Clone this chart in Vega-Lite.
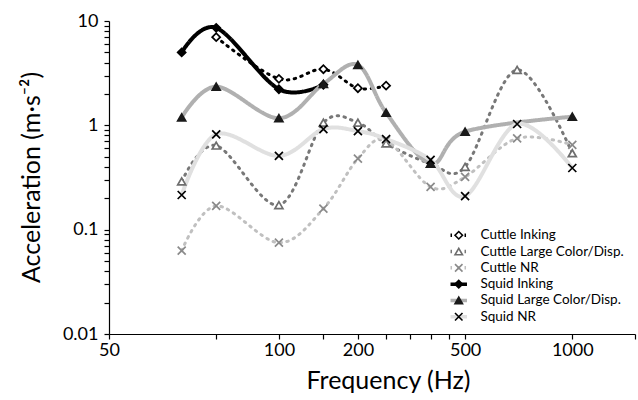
{
  "$schema": "https://vega.github.io/schema/vega-lite/v6.json",
  "width": 526,
  "height": 313,
  "autosize": {"type": "none"},
  "padding": {"left": 109, "top": 21, "right": 3, "bottom": 66},
  "background": "white",
  "config": {
    "view": {"stroke": null},
    "font": "Lato",
    "axis": {"grid": false, "domainColor": "#000", "tickColor": "#000", "labelColor": "#000", "titleColor": "#000", "labelFont": "Lato", "titleFont": "Lato", "titleFontWeight": "normal", "domainWidth": 1.2, "tickWidth": 1.2}
  },
  "data": {"values": [
    {"series": "Cuttle Inking", "freq": 100, "accel": 7.0},
    {"series": "Cuttle Inking", "freq": 150, "accel": 2.79},
    {"series": "Cuttle Inking", "freq": 200, "accel": 3.45},
    {"series": "Cuttle Inking", "freq": 250, "accel": 2.27},
    {"series": "Cuttle Inking", "freq": 300, "accel": 2.40},
    {"series": "Cuttle Large Color/Disp.", "freq": 80, "accel": 0.29},
    {"series": "Cuttle Large Color/Disp.", "freq": 100, "accel": 0.64},
    {"series": "Cuttle Large Color/Disp.", "freq": 150, "accel": 0.172},
    {"series": "Cuttle Large Color/Disp.", "freq": 200, "accel": 1.06},
    {"series": "Cuttle Large Color/Disp.", "freq": 250, "accel": 1.06},
    {"series": "Cuttle Large Color/Disp.", "freq": 300, "accel": 0.67},
    {"series": "Cuttle Large Color/Disp.", "freq": 400, "accel": 0.43},
    {"series": "Cuttle Large Color/Disp.", "freq": 500, "accel": 0.40},
    {"series": "Cuttle Large Color/Disp.", "freq": 700, "accel": 3.40},
    {"series": "Cuttle Large Color/Disp.", "freq": 1000, "accel": 0.54},
    {"series": "Cuttle NR", "freq": 80, "accel": 0.063},
    {"series": "Cuttle NR", "freq": 100, "accel": 0.169},
    {"series": "Cuttle NR", "freq": 150, "accel": 0.075},
    {"series": "Cuttle NR", "freq": 200, "accel": 0.159},
    {"series": "Cuttle NR", "freq": 250, "accel": 0.48},
    {"series": "Cuttle NR", "freq": 300, "accel": 0.72},
    {"series": "Cuttle NR", "freq": 400, "accel": 0.257},
    {"series": "Cuttle NR", "freq": 500, "accel": 0.32},
    {"series": "Cuttle NR", "freq": 700, "accel": 0.75},
    {"series": "Cuttle NR", "freq": 1000, "accel": 0.65},
    {"series": "Squid Inking", "freq": 80, "accel": 5.0},
    {"series": "Squid Inking", "freq": 100, "accel": 8.6},
    {"series": "Squid Inking", "freq": 150, "accel": 2.22},
    {"series": "Squid Inking", "freq": 200, "accel": 2.45},
    {"series": "Squid Large Color/Disp.", "freq": 80, "accel": 1.19},
    {"series": "Squid Large Color/Disp.", "freq": 100, "accel": 2.35},
    {"series": "Squid Large Color/Disp.", "freq": 150, "accel": 1.17},
    {"series": "Squid Large Color/Disp.", "freq": 200, "accel": 2.5},
    {"series": "Squid Large Color/Disp.", "freq": 250, "accel": 3.79},
    {"series": "Squid Large Color/Disp.", "freq": 300, "accel": 1.32},
    {"series": "Squid Large Color/Disp.", "freq": 400, "accel": 0.43},
    {"series": "Squid Large Color/Disp.", "freq": 500, "accel": 0.87},
    {"series": "Squid Large Color/Disp.", "freq": 1000, "accel": 1.21},
    {"series": "Squid NR", "freq": 80, "accel": 0.215},
    {"series": "Squid NR", "freq": 100, "accel": 0.82},
    {"series": "Squid NR", "freq": 150, "accel": 0.51},
    {"series": "Squid NR", "freq": 200, "accel": 0.92},
    {"series": "Squid NR", "freq": 250, "accel": 0.88},
    {"series": "Squid NR", "freq": 300, "accel": 0.74},
    {"series": "Squid NR", "freq": 400, "accel": 0.466},
    {"series": "Squid NR", "freq": 500, "accel": 0.21},
    {"series": "Squid NR", "freq": 700, "accel": 1.03},
    {"series": "Squid NR", "freq": 1000, "accel": 0.39}
  ]},
  "encoding": {
    "x": {
      "field": "freq", "type": "quantitative",
      "scale": {"type": "log", "domain": [50, 1500]},
      "axis": {
        "values": [50, 100, 150, 200, 250, 300, 350, 400, 450, 500, 1000, 1500],
        "labelExpr": "datum.value == 50 ? '50' : datum.value == 150 ? '100' : datum.value == 250 ? '200' : datum.value == 500 ? '500' : datum.value == 1000 ? '1000' : ''",
        "tickSize": 5, "labelFontSize": 18, "labelPadding": 2, "labelFlush": false, "labelOverlap": false, "labelBound": false,
        "title": "Frequency (Hz)", "titleFontSize": 25, "titleX": 279, "titleY": 54, "titleBaseline": "alphabetic", "titleAlign": "center"
      }
    },
    "y": {
      "field": "accel", "type": "quantitative",
      "scale": {"type": "log", "domain": [0.01, 10]},
      "axis": {
        "values": [0.01, 0.02, 0.03, 0.04, 0.05, 0.06, 0.07, 0.08, 0.09, 0.1, 0.2, 0.3, 0.4, 0.5, 0.6, 0.7, 0.8, 0.9, 1, 2, 3, 4, 5, 6, 7, 8, 9, 10],
        "labelExpr": "datum.value == 10 ? '10' : datum.value == 1 ? '1' : datum.value == 0.1 ? '0.1' : datum.value == 0.01 ? '0.01' : ''",
        "tickSize": 5, "labelFontSize": 18, "labelPadding": 6, "labelOverlap": false, "labelBound": false, "labelFlush": false,
        "title": "Acceleration (m·s⁻²)", "titleFontSize": 25, "titleX": -70, "titleY": 156, "titleBaseline": "alphabetic", "titleAlign": "center", "titleAngle": -90
      }
    }
  },
  "layer": [
    {
      "transform": [{"filter": "indexof(datum.series, 'Cuttle') == 0"}],
      "mark": {"type": "line", "interpolate": "cardinal", "strokeWidth": 3, "strokeCap": "round"},
      "encoding": {
        "color": {"field": "series", "type": "nominal",
          "scale": {"range": ["#000000", "#787878", "#c0c0c0", "#000000", "#b0b0b0", "#e0e0e0"]},
          "legend": {"orient": "none", "legendX": 343, "legendY": 207.5, "title": null, "symbolType": "M-2.2,0H2.2", "symbolSize": 56, "symbolStrokeWidth": 3.5, "labelFontSize": 13.5, "labelFont": "Lato", "labelColor": "#000", "labelOffset": 15, "rowPadding": 1.3, "padding": 0}},
        "strokeDash": {"field": "series", "type": "nominal",
          "scale": {"range": [[1.5, 5.5], [1.5, 5.5], [1.5, 5.5], [1, 0], [1, 0], [1, 0]]},
          "legend": {"orient": "none", "legendX": 343, "legendY": 207.5, "title": null, "symbolType": "M-2.2,0H2.2", "symbolSize": 56, "symbolStrokeWidth": 3.5, "labelFontSize": 13.5, "labelFont": "Lato", "labelColor": "#000", "labelOffset": 15, "rowPadding": 1.3, "padding": 0}}
      }
    },
    {
      "transform": [{"filter": "indexof(datum.series, 'Squid') == 0"}],
      "mark": {"type": "line", "interpolate": "cardinal", "strokeWidth": 4},
      "encoding": {
        "color": {"field": "series", "type": "nominal",
          "scale": {"range": ["#000000", "#787878", "#c0c0c0", "#000000", "#b0b0b0", "#e0e0e0"]},
          "legend": {"orient": "none", "legendX": 343, "legendY": 207.5, "title": null, "symbolType": "M-2.2,0H2.2", "symbolSize": 56, "symbolStrokeWidth": 3.5, "labelFontSize": 13.5, "labelFont": "Lato", "labelColor": "#000", "labelOffset": 15, "rowPadding": 1.3, "padding": 0}},
        "strokeDash": {"field": "series", "type": "nominal",
          "scale": {"range": [[1.5, 5.5], [1.5, 5.5], [1.5, 5.5], [1, 0], [1, 0], [1, 0]]},
          "legend": {"orient": "none", "legendX": 343, "legendY": 207.5, "title": null, "symbolType": "M-2.2,0H2.2", "symbolSize": 56, "symbolStrokeWidth": 3.5, "labelFontSize": 13.5, "labelFont": "Lato", "labelColor": "#000", "labelOffset": 15, "rowPadding": 1.3, "padding": 0}}
      }
    },
    {
      "mark": {"type": "point", "size": 64, "strokeWidth": 1.7, "opacity": 1},
      "encoding": {
        "shape": {"field": "series", "type": "nominal",
          "scale": {"domain": ["Cuttle Inking", "Cuttle Large Color/Disp.", "Cuttle NR", "Squid Inking", "Squid Large Color/Disp.", "Squid NR"],
                    "range": ["diamond", "triangle-up", "M-1,-1L1,1M-1,1L1,-1", "diamond", "triangle-up", "M-1,-1L1,1M-1,1L1,-1"]},
          "legend": {"orient": "none", "legendX": 343, "legendY": 207.5, "title": null, "symbolSize": 56, "symbolStrokeWidth": 1.6, "labelFontSize": 13.5, "labelFont": "Lato", "labelColor": "rgba(0,0,0,0)", "labelOffset": 15, "rowPadding": 1.3, "padding": 0}},
        "fill": {"field": "series", "type": "nominal",
          "scale": {"domain": ["Cuttle Inking", "Cuttle Large Color/Disp.", "Cuttle NR", "Squid Inking", "Squid Large Color/Disp.", "Squid NR"],
                    "range": ["#ffffff", "#ffffff", "#ffffff", "#000000", "#1a1a1a", "#ffffff"]},
          "legend": {"orient": "none", "legendX": 343, "legendY": 207.5, "title": null, "symbolSize": 56, "symbolStrokeWidth": 1.6, "labelFontSize": 13.5, "labelFont": "Lato", "labelColor": "rgba(0,0,0,0)", "labelOffset": 15, "rowPadding": 1.3, "padding": 0}},
        "stroke": {"field": "series", "type": "nominal",
          "scale": {"domain": ["Cuttle Inking", "Cuttle Large Color/Disp.", "Cuttle NR", "Squid Inking", "Squid Large Color/Disp.", "Squid NR"],
                    "range": ["#000000", "#6e6e6e", "#8a8a8a", "#000000", "#1a1a1a", "#000000"]},
          "legend": {"orient": "none", "legendX": 343, "legendY": 207.5, "title": null, "symbolSize": 56, "symbolStrokeWidth": 1.6, "labelFontSize": 13.5, "labelFont": "Lato", "labelColor": "rgba(0,0,0,0)", "labelOffset": 15, "rowPadding": 1.3, "padding": 0}}
      }
    }
  ]
}
